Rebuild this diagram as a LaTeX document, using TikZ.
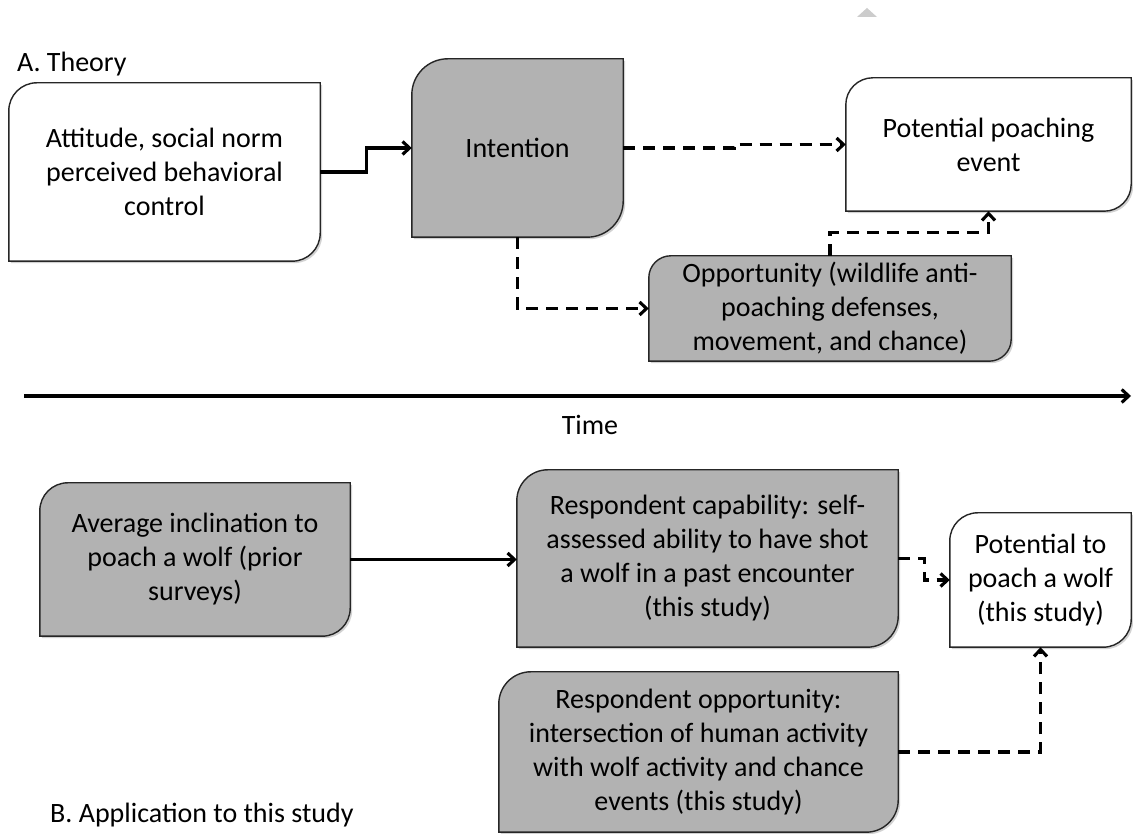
\documentclass[tikz,border=0pt]{standalone}
\usepackage{fontspec}
\setmainfont{Carlito}
\usetikzlibrary{arrows.meta}
\usetikzlibrary{backgrounds}
\usetikzlibrary{shadows}
\definecolor{mgray}{rgb}{0.70, 0.70, 0.70}
\definecolor{mtick}{rgb}{0.80, 0.80, 0.80}
\tikzset{leafedge/.style = {draw=black!85, line width=1.4pt,
                            drop shadow={shadow xshift=2pt, shadow yshift=-2pt,
                                         opacity=0.35, fill=black!50}},
         textbox/.style = {inner sep=0pt, align=center,
                           font=\fontsize{28}{34}\selectfont},
         heading/.style = {anchor=west, inner sep=0pt,
                           font=\fontsize{28}{34}\selectfont},
         solidarrow/.style = {line width=3.1pt,
                              -{Straight Barb[length=7pt, width=13pt]}},
         dasharrow/.style = {solidarrow, dash pattern=on 12pt off 8pt}}
\newcommand{\leafbox}[3]{%
  \draw [leafedge, fill=#2] (#1.south west) -- ([yshift=-#3]#1.north west)
    arc [start angle=180, end angle=90, radius=#3] -- (#1.north east)
    -- ([yshift=#3]#1.south east)
    arc [start angle=0, end angle=-90, radius=#3] -- cycle;}

\begin{document}
\begin{tikzpicture}[x=1pt, y=1pt]
    \useasboundingbox (0,0) rectangle (1133,834);

    \node [heading] (theory) at (17,770) {A. Theory};
    \node [textbox, minimum width=311, minimum height=178] (att) at (164.5,662)
        {Attitude, social norm\\perceived behavioral\\control};
    \node [textbox, minimum width=211, minimum height=178] (int) at (517.5,686) {Intention};
    \node [textbox, minimum width=285, minimum height=133] (ppe) at (988.5,689.5)
        {Potential poaching\\event};
    \node [textbox, minimum width=362, minimum height=105] (opp) at (830,525.5)
        {Opportunity (wildlife anti-\\poaching defenses,\\movement, and chance)};

    \coordinate (t0) at (24,438);
    \coordinate (t1) at (1131,438);
    \node [textbox] (time) at (590,409) {Time};

    \node [textbox, minimum width=310, minimum height=153] (avg) at (195,274.5)
        {Average inclination to\\poach a wolf (prior\\surveys)};
    \node [textbox, minimum width=381, minimum height=177] (cap) at (707.5,275.5)
        {Respondent capability: self-\\assessed ability to have shot\\a wolf in a past encounter\\(this study)};
    \node [textbox, minimum width=181, minimum height=134] (ptp) at (1040.5,254)
        {Potential to\\poach a wolf\\(this study)};
    \node [textbox, minimum width=399, minimum height=160] (ropp) at (698.5,82)
        {Respondent opportunity:\\intersection of human activity\\with wolf activity and chance\\events (this study)};
    \node [heading] (appl) at (50,19) {B. Application to this study};

    \begin{scope}[on background layer]
      \fill [white] (0,0) rectangle (1133,834);
      \fill [mtick] (857,817) -- (877,817) -- (867,826) -- cycle;
      \leafbox{att}{white}{28pt}
      \leafbox{int}{mgray}{36pt}
      \leafbox{ppe}{white}{27pt}
      \leafbox{opp}{mgray}{22pt}
      \leafbox{avg}{mgray}{28pt}
      \leafbox{cap}{mgray}{31pt}
      \leafbox{ptp}{white}{28pt}
      \leafbox{ropp}{mgray}{32pt}
    \end{scope}

    \draw [solidarrow] (att.east) -- ++(46,0) |- (int.west);
    \draw [dasharrow] (int.east) -- ++(111,0) |- (ppe.west);
    \draw [dasharrow] (int.south) |- (opp.west);
    \draw [dasharrow] (opp.north) -- ++(0,23) -| (ppe.south);
    \draw [solidarrow] (t0) -- (t1);
    \draw [solidarrow] (avg.east) -- (avg.east -| cap.west);
    \draw [dasharrow] (cap.east) -- ++(26,0) |- (ptp.west);
    \draw [dasharrow] (ropp.east) -| (ptp.south);
  \end{tikzpicture}
\end{document}
